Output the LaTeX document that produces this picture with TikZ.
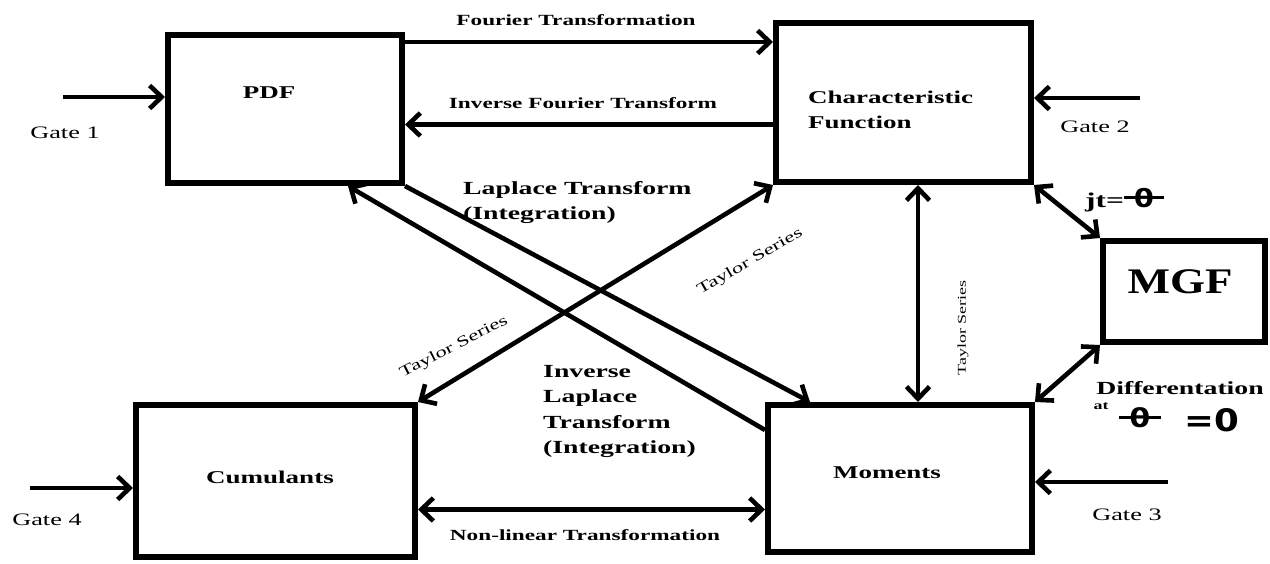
\documentclass[tikz,border=0pt]{standalone}
\usepackage{fontspec}
\setmainfont[FakeStretch=1.5]{Liberation Serif}
\newfontfamily\mgffont[FakeStretch=1.25]{Liberation Serif}
\newfontfamily\dvs[FakeStretch=1.15]{DejaVu Sans}
\usetikzlibrary{arrows.meta}
\newcommand{\fs}[1]{\fontsize{#1}{#1}\selectfont}
\newcommand{\barth}{\rule[0.33em]{0.5em}{0.12em}\kern-0.1em θ\kern-0.1em\rule[0.33em]{0.5em}{0.12em}}
\begin{document}
\begin{tikzpicture}[x=1pt,y=-1pt,
  box/.style={draw, line width=6pt, inner sep=0pt},
  conn/.style={line width=4.6pt, -{Straight Barb[length=12pt,width=23pt]}},
  both/.style={line width=4.6pt, {Straight Barb[length=12pt,width=23pt]}-{Straight Barb[length=12pt,width=23pt]}},
  gate/.style={font=\fs{17.5}, inner sep=0pt},
  boxtxt/.style={font=\bfseries\fs{18}, inner sep=0pt},
  arrtxt/.style={font=\bfseries\fs{15.5}, inner sep=0pt},
  bigtxt/.style={font=\bfseries\fontsize{18.5}{25.5}\selectfont, inner sep=0pt, align=left},
  taylor/.style={font=\fs{15}, inner sep=0pt}]
\fill[white] (0,0) rectangle (1270,563);
\useasboundingbox (0,0) rectangle (1270,563);

% boxes
\node[box, minimum width=234pt, minimum height=148pt] (pdf) at (285,109) {};
\node[box, minimum width=255pt, minimum height=159pt] (cf) at (903.5,102.5) {};
\node[box, minimum width=162pt, minimum height=101pt] (mgf) at (1184,291.5) {};
\node[box, minimum width=279pt, minimum height=152pt] (cum) at (275.5,481) {};
\node[box, minimum width=264pt, minimum height=147pt] (mom) at (900,478.5) {};

% box texts
\node[boxtxt] (pdft) at (269,93) {PDF};
\node[boxtxt, align=left, anchor=west, font=\bfseries\fontsize{18}{25}\selectfont] (cft) at (808,110) {Characteristic\\Function};
\node[inner sep=0pt, font=\mgffont\bfseries\fs{36}] (mgft) at (1180,282) {MGF};
\node[boxtxt] (cumt) at (270,477) {Cumulants};
\node[boxtxt] (momt) at (887,473) {Moments};

% connectors
\draw[conn] ([yshift=-10pt]pdf.north east) -- ([yshift=-10pt]pdf.north east -| cf.west);
\draw[conn] ([yshift=-104.5pt]cf.north west) -- ([yshift=-104.5pt]cf.north west -| pdf.east);
\draw[conn] (pdf.south east) -- ([xshift=45pt]mom.north west);
\draw[conn] ([yshift=-28pt]mom.north west) -- ([xshift=-57pt]pdf.south east);
\draw[both] (cum.north east) -- (cf.south west);
\draw[both] ([xshift=14.5pt]cf.south) -- ([xshift=14.5pt]cf.south |- mom.north);
\draw[both] (cf.south east) -- (mgf.north west);
\draw[both] (mgf.south west) -- (mom.north east);
\draw[both] ([yshift=-107.5pt]cum.north east) -- ([yshift=-107.5pt]cum.north east -| mom.west);

% gates
\coordinate (g1) at (63,97);
\coordinate (g2) at (1140,98);
\coordinate (g3) at (1168,482);
\coordinate (g4) at (30,488);
\draw[conn] (g1) -- (g1 -| pdf.west);
\draw[conn] (g2) -- (g2 -| cf.east);
\draw[conn] (g3) -- (g3 -| mom.east);
\draw[conn] (g4) -- (g4 -| cum.west);
\node[gate] (g1t) at (65,133) {Gate 1};
\node[gate] (g2t) at (1095,127) {Gate 2};
\node[gate] (g3t) at (1127,515) {Gate 3};
\node[gate] (g4t) at (47,520) {Gate 4};

% connector labels
\node[arrtxt] (ft) at (576,20) {Fourier Transformation};
\node[arrtxt] (ift) at (583,103) {Inverse Fourier Transform};
\node[arrtxt] (nlt) at (585,535) {Non-linear Transformation};
\node[bigtxt, anchor=west] (lt) at (463,202.5) {Laplace Transform\\(Integration)};
\node[bigtxt, anchor=west] (ilt) at (543,411.5) {Inverse\\Laplace\\Transform\\(Integration)};
\node[taylor, rotate=30] (ts1) at (750,262) {Taylor Series};
\node[taylor, rotate=27] (ts2) at (454,347) {Taylor Series};
\node[taylor, font=\fs{12}, rotate=90] (ts3) at (963,328) {Taylor Series};

% MGF conditions
\node[inner sep=0pt, anchor=west] (jt) at (1085,200) {{\bfseries\fs{21}jt=}{\dvs\bfseries\fs{25}\barth}};
\node[inner sep=0pt, font=\bfseries\fs{18.5}] (dif) at (1180,388) {Differentation};
\node[inner sep=0pt, font=\bfseries\fs{12}] (at) at (1101,406) {at};
\node[inner sep=0pt, font=\dvs\bfseries\fs{26}] (th) at (1140,418) {\barth};
\node[inner sep=0pt, font=\dvs\bfseries\fs{31}] (eq) at (1212,420) {=0};
\end{tikzpicture}
\end{document}
